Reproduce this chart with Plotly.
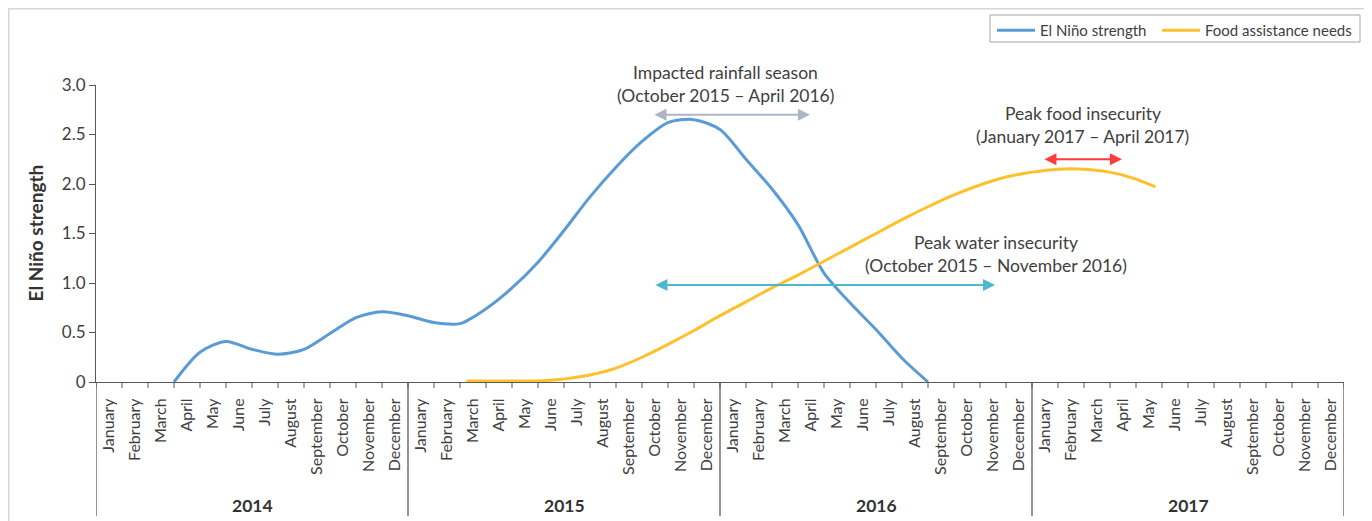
import plotly.graph_objects as go

# ---------------- data ----------------
years = ["2014", "2015", "2016", "2017"]
months = ["January", "February", "March", "April", "May", "June", "July",
          "August", "September", "October", "November", "December"]

# month positions measured from the start of January 2014 (1 unit = 1 month)
nino_x = [3, 4, 5, 6, 7, 8, 9, 10, 11, 12, 13, 14, 15, 16, 17, 18, 19, 20,
          21, 22, 23, 24, 25, 26, 27, 28, 29, 30, 31, 32]
nino_y = [0, 0.30, 0.41, 0.33, 0.28, 0.33, 0.49, 0.65, 0.71, 0.67, 0.60, 0.59,
          0.74, 0.95, 1.21, 1.53, 1.87, 2.17, 2.43, 2.62, 2.65, 2.55, 2.25,
          1.95, 1.59, 1.10, 0.80, 0.53, 0.24, 0]

food_x = [14.25, 15, 16, 17, 18, 19, 20, 21, 22, 23, 24, 25, 26, 27, 28, 29,
          30, 31, 32, 33, 34, 35, 36, 37, 38, 39, 40, 40.75]
food_y = [0.01, 0.01, 0.01, 0.01, 0.03, 0.07, 0.14, 0.25, 0.38, 0.52, 0.67,
          0.81, 0.95, 1.08, 1.22, 1.36, 1.50, 1.64, 1.77, 1.89, 1.99, 2.07,
          2.12, 2.15, 2.15, 2.12, 2.05, 1.97]

y_ticks = [0, 0.5, 1.0, 1.5, 2.0, 2.5, 3.0]
y_ticktext = ["0", "0.5", "1.0", "1.5", "2.0", "2.5", "3.0"]

# (start, end, y, colour, label lines, label x, label y of the two lines)
periods = [
    (21.42, 27.46, 2.70, "#AEB4C8", ["Impacted rainfall season", "(October 2015 \u2013 April 2016)"], 24.23, [3.13, 2.89]),
    (36.42, 39.46, 2.25, "#FF3B3B", ["Peak food insecurity", "(January 2017 \u2013 April 2017)"], 37.96, [2.71, 2.48]),
    (21.46, 34.58, 0.98, "#4BB8CF", ["Peak water insecurity", "(October 2015 \u2013 November 2016)"], 34.6, [1.41, 1.18]),
]

FONT = "Lato"
TXT = "#404040"
AX = "#595959"

n_months = len(years) * len(months)
# target plot area in page pixels (page has an 8px body offset)
PL, PR, PT, PB = 96, 1344, 85, 382
plot_w = PR - PL
plot_h = PB - PT
Y_MAX = 3.0


def px(xp):
    return (xp - PL) / plot_w


def py(yp):
    return (PB - yp) / plot_h


fig = go.Figure()
fig.add_trace(go.Scatter(x=nino_x, y=nino_y, mode="lines", name="El Ni\u00f1o strength",
                         line=dict(color="#5B9BD5", width=3, shape="spline", smoothing=0.8),
                         cliponaxis=False, legend="legend"))
fig.add_trace(go.Scatter(x=food_x, y=food_y, mode="lines", name="Food assistance needs",
                         line=dict(color="#FFC12B", width=3, shape="spline", smoothing=0.8),
                         cliponaxis=False, legend="legend2"))

shapes = []
# outer frame
shapes.append(dict(type="rect", xref="paper", yref="paper", x0=px(8.5), x1=px(1367),
                   y0=py(600), y1=py(8.5), line=dict(color="#d6d6d6", width=2), layer="below"))
# legend box
shapes.append(dict(type="rect", xref="paper", yref="paper", x0=px(990), x1=px(1360),
                   y0=py(42), y1=py(15), line=dict(color="#a6a6a6", width=1), layer="below"))
# month boundary ticks
for k in range(n_months + 1):
    shapes.append(dict(type="line", xref="x", yref="paper", x0=k, x1=k, y0=0, y1=py(PB + 6),
                       line=dict(color=AX, width=1)))
# year dividers
for k in range(0, n_months + 1, len(months)):
    shapes.append(dict(type="line", xref="x", yref="paper", x0=k, x1=k, y0=0, y1=py(516),
                       line=dict(color=AX, width=1.3)))

annotations = []
for i, yr in enumerate(years):
    annotations.append(dict(x=i * len(months) + len(months) / 2, y=py(505), xref="x", yref="paper",
                            xanchor="center", yanchor="middle",
                            text="<b>" + yr + "</b>", showarrow=False,
                            font=dict(family=FONT, size=17.5, color="#333333")))
for (x0, x1, yv, col, lines, lx, lys) in periods:
    annotations.append(dict(x=x1, y=yv, ax=x0, ay=yv, xref="x", yref="y", axref="x", ayref="y",
                            text="", showarrow=True, arrowhead=2, arrowside="end+start",
                            arrowsize=1.2, arrowwidth=2, arrowcolor=col))
    for line, ly in zip(lines, lys):
        # paper-referenced so labels above the axis range stay visible
        annotations.append(dict(x=lx, y=ly / Y_MAX, xref="x", yref="paper", text=line, showarrow=False,
                                xanchor="center", yanchor="middle",
                                font=dict(family=FONT, size=17.5, color=TXT)))
annotations.append(dict(x=px(35), y=0.5, xref="paper", yref="paper", textangle=-90,
                        xanchor="center", yanchor="middle",
                        text="<b>El Ni\u00f1o strength</b>", showarrow=False,
                        font=dict(family=FONT, size=19, color="#333333")))

legend_style = dict(orientation="h", xanchor="left", yanchor="top", borderwidth=0,
                    font=dict(family=FONT, size=15, color=TXT), bgcolor="rgba(0,0,0,0)",
                    itemwidth=38)

fig.update_layout(
    width=1372, height=521,
    margin=dict(l=PL - 8, r=1372 - (PR - 8), t=PT - 8, b=521 - (PB - 8), autoexpand=False),
    paper_bgcolor="white", plot_bgcolor="white",
    font=dict(family=FONT, color=TXT),
    showlegend=True,
    legend=dict(x=px(992), y=py(14), **legend_style),
    legend2=dict(x=px(1157), y=py(14), **legend_style),
    shapes=shapes,
    annotations=annotations,
    xaxis=dict(range=[0, n_months], tickvals=[i + 0.5 for i in range(n_months)],
               ticktext=months * len(years), tickangle=-90, ticks="", ticklabelstandoff=9,
               showgrid=False, zeroline=False, showline=True, linecolor=AX, linewidth=1,
               tickfont=dict(family=FONT, size=16, color=TXT), fixedrange=True),
    yaxis=dict(range=[0, Y_MAX], tickvals=y_ticks, ticktext=y_ticktext, ticks="outside", ticklen=6,
               tickcolor=AX, showgrid=False, zeroline=False, showline=True, linecolor=AX, linewidth=1,
               tickfont=dict(family=FONT, size=17, color=TXT), fixedrange=True),
)

fig.write_html("out.html")
